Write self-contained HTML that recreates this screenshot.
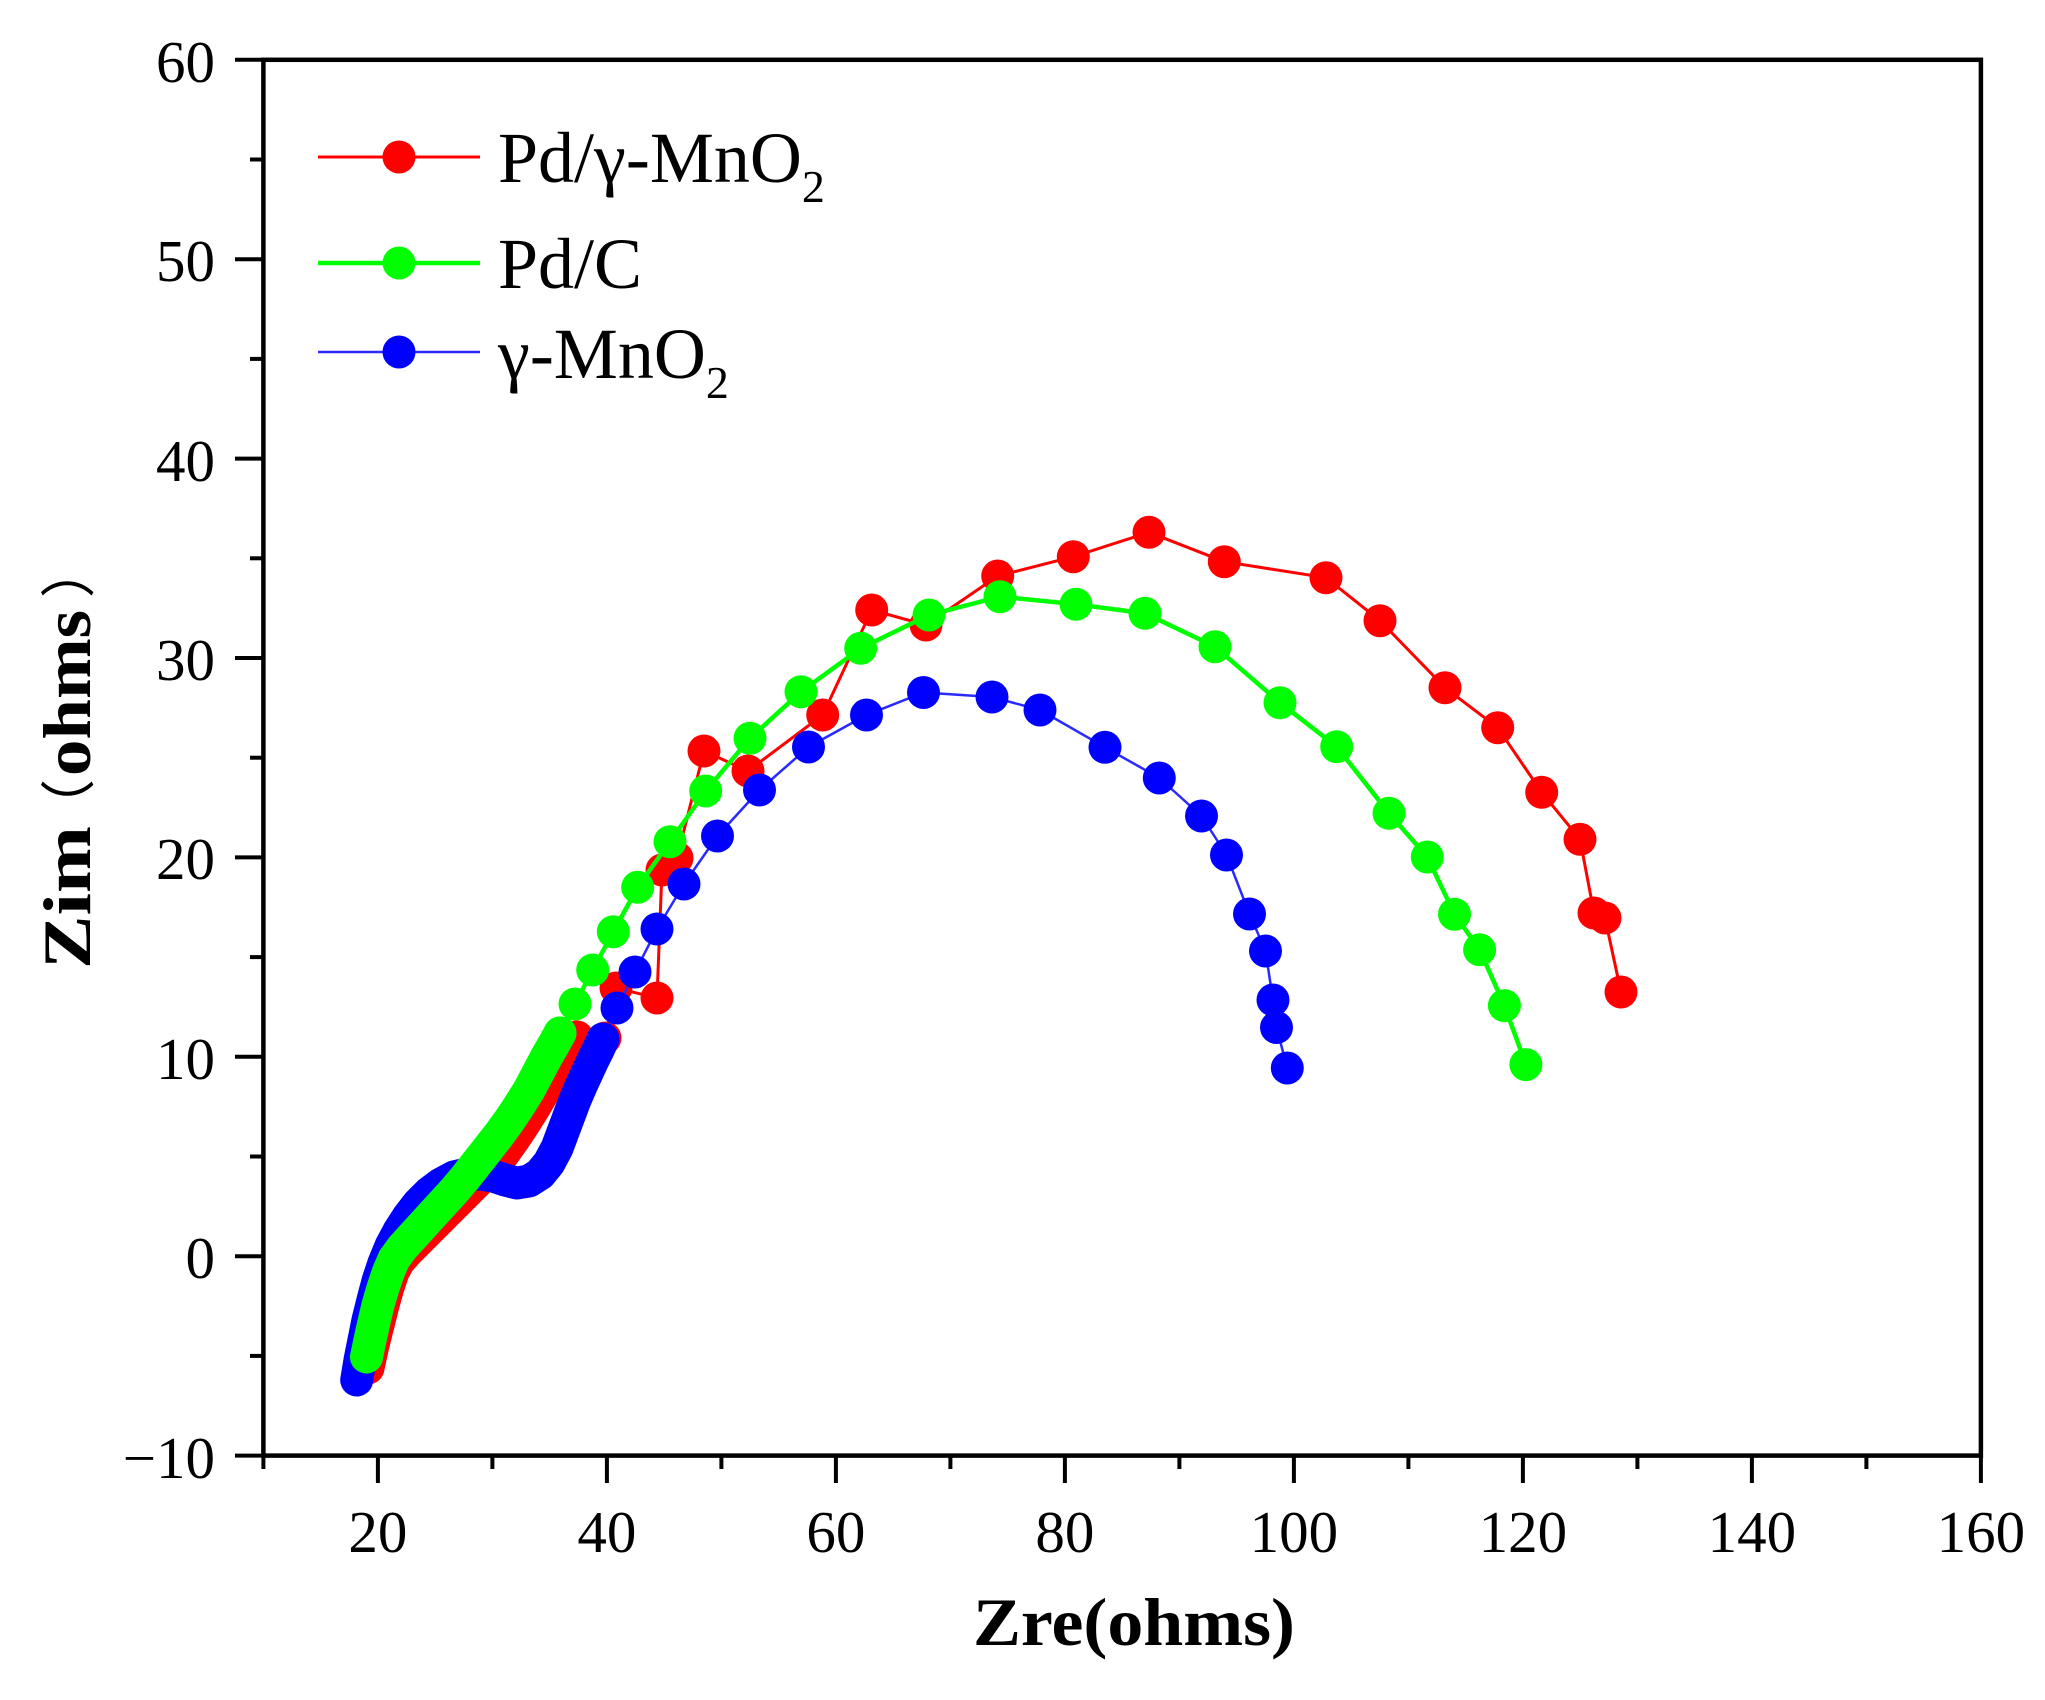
<!DOCTYPE html>
<html>
<head>
<meta charset="utf-8">
<style>
  html,body{margin:0;padding:0;background:#fff;}
  svg{display:block;}
  .tick{font-family:"Liberation Serif","Times New Roman",serif;font-size:59px;fill:#000;}
  .leg{font-family:"Liberation Serif","Times New Roman",serif;font-size:72px;fill:#000;}
  .lab{font-family:"Liberation Serif","Times New Roman",serif;font-weight:bold;font-size:68px;fill:#000;}
  .cjk{font-family:"Liberation Serif","Noto Sans CJK SC",sans-serif;font-size:55px;fill:#000;}
</style>
</head>
<body>
<svg width="2045" height="1700" viewBox="0 0 2045 1700" xmlns="http://www.w3.org/2000/svg">
  <rect width="2045" height="1700" fill="#fff"/>

  <!-- ===== RED series: Pd/γ-MnO2 ===== -->
  <g>
    <polyline fill="none" stroke="#ff0000" stroke-width="3" stroke-linejoin="round"
      points="577,1037 605,1038 616,988 657,998 662,870 677,858 704,751 748,771 822.7,715 871.7,610 926,625 997.7,576 1073.3,556.7 1149,532.3 1224.3,561.7 1326,577.7 1380,620.7 1445,687.7 1497.7,727.7 1541.7,792.3 1580,839.3 1594,913 1605,918 1621,992"/>
    <polyline fill="none" stroke="#ff0000" stroke-width="33" stroke-linecap="round" stroke-linejoin="round"
      points="368,1368 373,1345 378,1325 383,1305 388,1287 393,1272 399,1261 408,1251 418,1241 428,1231 438,1221 448,1211 459,1200 470,1189 482,1177 494,1165 504,1153 514,1139 524,1124 534,1108 544,1091 553,1075 562,1060 570,1048 577,1037"/>
    <g fill="#ff0000">
      <circle cx="577" cy="1037" r="16.5"/>
      <circle cx="605" cy="1038" r="16.5"/>
      <circle cx="616" cy="988" r="16.5"/>
      <circle cx="657" cy="998" r="16.5"/>
      <circle cx="662" cy="870" r="16.5"/>
      <circle cx="677" cy="858" r="16.5"/>
      <circle cx="704" cy="751" r="16.5"/>
      <circle cx="748" cy="771" r="16.5"/>
      <circle cx="822.7" cy="715" r="16.5"/>
      <circle cx="871.7" cy="610" r="16.5"/>
      <circle cx="926" cy="625" r="16.5"/>
      <circle cx="997.7" cy="576" r="16.5"/>
      <circle cx="1073.3" cy="556.7" r="16.5"/>
      <circle cx="1149" cy="532.3" r="16.5"/>
      <circle cx="1224.3" cy="561.7" r="16.5"/>
      <circle cx="1326" cy="577.7" r="16.5"/>
      <circle cx="1380" cy="620.7" r="16.5"/>
      <circle cx="1445" cy="687.7" r="16.5"/>
      <circle cx="1497.7" cy="727.7" r="16.5"/>
      <circle cx="1541.7" cy="792.3" r="16.5"/>
      <circle cx="1580" cy="839.3" r="16.5"/>
      <circle cx="1594" cy="913" r="16.5"/>
      <circle cx="1605" cy="918" r="16.5"/>
      <circle cx="1621" cy="992" r="16.5"/>
    </g>
  </g>

  <!-- ===== BLUE series: γ-MnO2 ===== -->
  <g>
    <polyline fill="none" stroke="#2a2aff" stroke-width="2.5" stroke-linejoin="round"
      points="603,1039 617,1008 635,972 657,929 684,884 717.5,836 759.5,790 808.5,747 866.5,715 923.5,692.5 992,697 1040,710 1105,747.3 1159.3,778 1201.5,816 1226.5,855 1249.5,914 1265.5,951 1273,1000 1276.5,1027.5 1287.3,1068"/>
    <polyline fill="none" stroke="#0000ff" stroke-width="33" stroke-linecap="round" stroke-linejoin="round"
      points="356.7,1380 360,1360 364,1340 368,1320 373,1300 378,1281 384,1263 391,1246 399,1231 408,1217 418,1204 429,1193 441,1184 454,1177 467,1174 480,1174 493,1176 505,1180 517,1183 529,1181 540,1174 549,1163 557,1148 563,1132 569,1116 575,1100 581,1086 587,1073 593,1060 598,1050 603,1039"/>
    <g fill="#0000ff">
      <circle cx="603" cy="1039" r="16.5"/>
      <circle cx="617" cy="1008" r="16.5"/>
      <circle cx="635" cy="972" r="16.5"/>
      <circle cx="657" cy="929" r="16.5"/>
      <circle cx="684" cy="884" r="16.5"/>
      <circle cx="717.5" cy="836" r="16.5"/>
      <circle cx="759.5" cy="790" r="16.5"/>
      <circle cx="808.5" cy="747" r="16.5"/>
      <circle cx="866.5" cy="715" r="16.5"/>
      <circle cx="923.5" cy="692.5" r="16.5"/>
      <circle cx="992" cy="697" r="16.5"/>
      <circle cx="1040" cy="710" r="16.5"/>
      <circle cx="1105" cy="747.3" r="16.5"/>
      <circle cx="1159.3" cy="778" r="16.5"/>
      <circle cx="1201.5" cy="816" r="16.5"/>
      <circle cx="1226.5" cy="855" r="16.5"/>
      <circle cx="1249.5" cy="914" r="16.5"/>
      <circle cx="1265.5" cy="951" r="16.5"/>
      <circle cx="1273" cy="1000" r="16.5"/>
      <circle cx="1276.5" cy="1027.5" r="16.5"/>
      <circle cx="1287.3" cy="1068" r="16.5"/>
    </g>
  </g>

  <!-- ===== GREEN series: Pd/C ===== -->
  <g>
    <polyline fill="none" stroke="#00ff00" stroke-width="4.5" stroke-linejoin="round"
      points="560,1033 575,1004 592.7,970 613.3,931.7 637.7,887.3 670,841.7 705.7,791 750,738.3 801,691.7 860.7,648.3 929,615 1000,596.7 1076,604.3 1145,613.3 1215,646.7 1280,702.7 1336.7,746.7 1389,813.3 1427.3,857 1454.5,914.2 1479.6,949.7 1504.4,1005.6 1525.9,1064.6"/>
    <polyline fill="none" stroke="#00ff00" stroke-width="33" stroke-linecap="round" stroke-linejoin="round"
      points="366.5,1357 370,1340 374,1322 378,1305 383,1288 388,1273 394,1259 402,1248 412,1237 422,1226 432,1215 443,1203 454,1191 465,1178 476,1164 487,1150 498,1136 509,1121 519,1106 529,1090 538,1073 547,1056 554,1044 560,1033"/>
    <g fill="#00ff00">
      <circle cx="560" cy="1033" r="16.5"/>
      <circle cx="575" cy="1004" r="16.5"/>
      <circle cx="592.7" cy="970" r="16.5"/>
      <circle cx="613.3" cy="931.7" r="16.5"/>
      <circle cx="637.7" cy="887.3" r="16.5"/>
      <circle cx="670" cy="841.7" r="16.5"/>
      <circle cx="705.7" cy="791" r="16.5"/>
      <circle cx="750" cy="738.3" r="16.5"/>
      <circle cx="801" cy="691.7" r="16.5"/>
      <circle cx="860.7" cy="648.3" r="16.5"/>
      <circle cx="929" cy="615" r="16.5"/>
      <circle cx="1000" cy="596.7" r="16.5"/>
      <circle cx="1076" cy="604.3" r="16.5"/>
      <circle cx="1145" cy="613.3" r="16.5"/>
      <circle cx="1215" cy="646.7" r="16.5"/>
      <circle cx="1280" cy="702.7" r="16.5"/>
      <circle cx="1336.7" cy="746.7" r="16.5"/>
      <circle cx="1389" cy="813.3" r="16.5"/>
      <circle cx="1427.3" cy="857" r="16.5"/>
      <circle cx="1454.5" cy="914.2" r="16.5"/>
      <circle cx="1479.6" cy="949.7" r="16.5"/>
      <circle cx="1504.4" cy="1005.6" r="16.5"/>
      <circle cx="1525.9" cy="1064.6" r="16.5"/>
    </g>
  </g>

  <!-- ===== Frame ===== -->
  <rect x="263.4" y="59.8" width="1717.5" height="1395.8" fill="none" stroke="#000" stroke-width="4.5"/>

  <!-- Y ticks -->
  <g stroke="#000" stroke-width="4">
    <line x1="235" y1="59.8" x2="263.4" y2="59.8"/>
    <line x1="235" y1="259.2" x2="263.4" y2="259.2"/>
    <line x1="235" y1="458.6" x2="263.4" y2="458.6"/>
    <line x1="235" y1="658" x2="263.4" y2="658"/>
    <line x1="235" y1="857.4" x2="263.4" y2="857.4"/>
    <line x1="235" y1="1056.8" x2="263.4" y2="1056.8"/>
    <line x1="235" y1="1256.2" x2="263.4" y2="1256.2"/>
    <line x1="235" y1="1455.6" x2="263.4" y2="1455.6"/>
    <line x1="250" y1="159.5" x2="263.4" y2="159.5"/>
    <line x1="250" y1="358.9" x2="263.4" y2="358.9"/>
    <line x1="250" y1="558.3" x2="263.4" y2="558.3"/>
    <line x1="250" y1="757.7" x2="263.4" y2="757.7"/>
    <line x1="250" y1="957.1" x2="263.4" y2="957.1"/>
    <line x1="250" y1="1156.5" x2="263.4" y2="1156.5"/>
    <line x1="250" y1="1355.9" x2="263.4" y2="1355.9"/>
  </g>
  <!-- X ticks -->
  <g stroke="#000" stroke-width="4">
    <line x1="377.9" y1="1455.6" x2="377.9" y2="1483"/>
    <line x1="606.9" y1="1455.6" x2="606.9" y2="1483"/>
    <line x1="835.9" y1="1455.6" x2="835.9" y2="1483"/>
    <line x1="1064.9" y1="1455.6" x2="1064.9" y2="1483"/>
    <line x1="1293.9" y1="1455.6" x2="1293.9" y2="1483"/>
    <line x1="1522.9" y1="1455.6" x2="1522.9" y2="1483"/>
    <line x1="1751.9" y1="1455.6" x2="1751.9" y2="1483"/>
    <line x1="1980.9" y1="1455.6" x2="1980.9" y2="1483"/>
    <line x1="263.4" y1="1455.6" x2="263.4" y2="1469"/>
    <line x1="492.4" y1="1455.6" x2="492.4" y2="1469"/>
    <line x1="721.4" y1="1455.6" x2="721.4" y2="1469"/>
    <line x1="950.4" y1="1455.6" x2="950.4" y2="1469"/>
    <line x1="1179.4" y1="1455.6" x2="1179.4" y2="1469"/>
    <line x1="1408.4" y1="1455.6" x2="1408.4" y2="1469"/>
    <line x1="1637.4" y1="1455.6" x2="1637.4" y2="1469"/>
    <line x1="1866.4" y1="1455.6" x2="1866.4" y2="1469"/>
  </g>

  <!-- Y tick labels -->
  <g class="tick" text-anchor="end">
    <text x="215" y="82">60</text>
    <text x="215" y="281">50</text>
    <text x="215" y="481">40</text>
    <text x="215" y="680">30</text>
    <text x="215" y="879">20</text>
    <text x="215" y="1079">10</text>
    <text x="215" y="1278">0</text>
    <text x="215" y="1478">−10</text>
  </g>
  <!-- X tick labels -->
  <g class="tick" text-anchor="middle">
    <text x="377.9" y="1552">20</text>
    <text x="606.9" y="1552">40</text>
    <text x="835.9" y="1552">60</text>
    <text x="1064.9" y="1552">80</text>
    <text x="1293.9" y="1552">100</text>
    <text x="1522.9" y="1552">120</text>
    <text x="1751.9" y="1552">140</text>
    <text x="1980.9" y="1552">160</text>
  </g>

  <!-- Axis titles -->
  <text class="lab" x="1134" y="1645" text-anchor="middle" textLength="322" lengthAdjust="spacingAndGlyphs">Zre(ohms)</text>
  <g transform="rotate(-90)">
    <text class="lab" x="-969" y="90" textLength="143" lengthAdjust="spacingAndGlyphs">Zim</text>
    <text class="cjk" x="-834" y="88">（</text>
    <text class="lab" x="-776" y="90" textLength="166" lengthAdjust="spacingAndGlyphs">ohms</text>
    <text class="cjk" x="-598" y="88">）</text>
  </g>

  <!-- Legend -->
  <g>
    <line x1="318" y1="157" x2="480" y2="157" stroke="#ff0000" stroke-width="3"/>
    <circle cx="399" cy="157" r="16.5" fill="#ff0000"/>
    <text class="leg" x="498" y="182">Pd/γ-MnO<tspan font-size="46" dy="20">2</tspan></text>

    <line x1="318" y1="263" x2="480" y2="263" stroke="#00ff00" stroke-width="4.5"/>
    <circle cx="399" cy="263" r="16.5" fill="#00ff00"/>
    <text class="leg" x="498" y="288">Pd/C</text>

    <line x1="318" y1="352" x2="480" y2="352" stroke="#2a2aff" stroke-width="2.5"/>
    <circle cx="399" cy="352" r="16.5" fill="#0000ff"/>
    <text class="leg" x="498" y="378">γ-MnO<tspan font-size="46" dy="20">2</tspan></text>
  </g>
</svg>
</body>
</html>
